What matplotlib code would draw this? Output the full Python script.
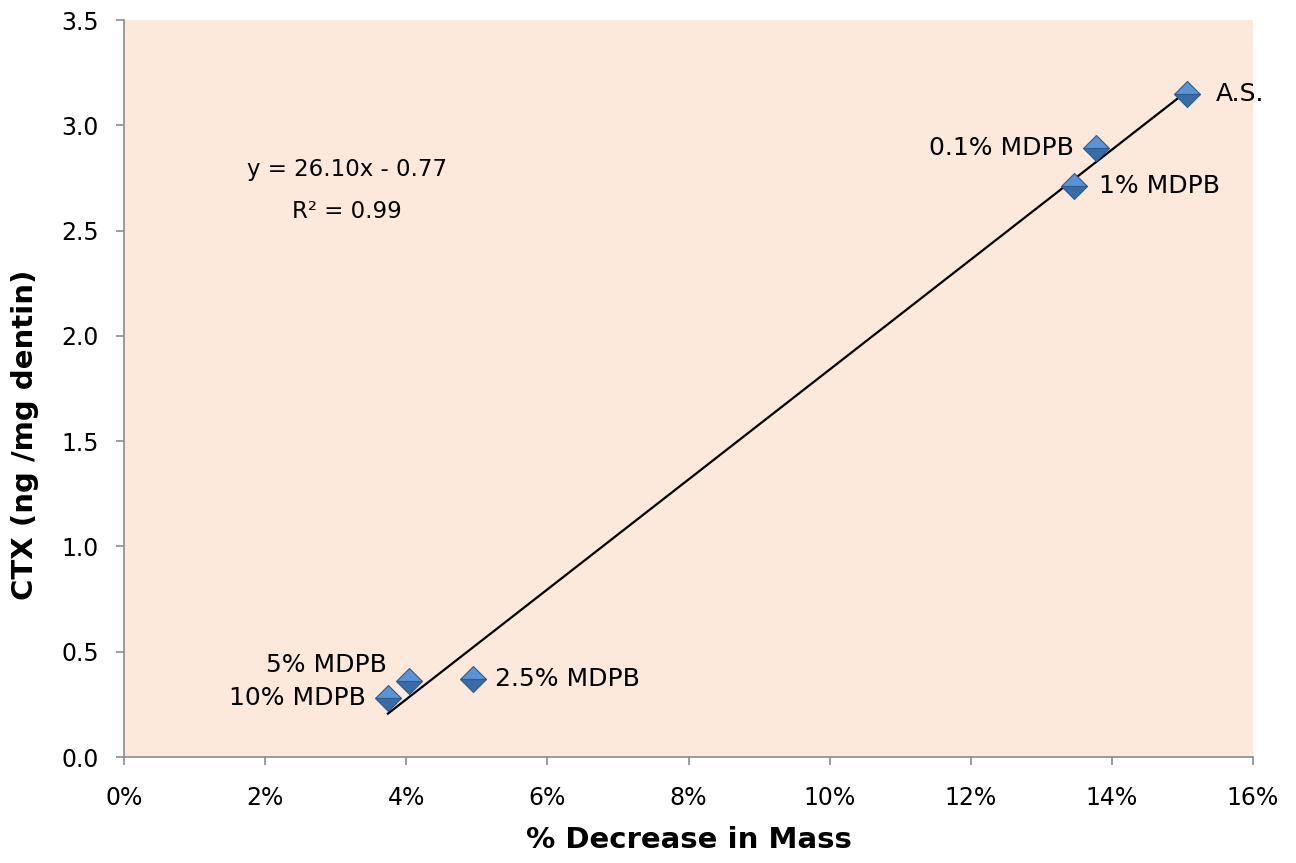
import numpy as np
import matplotlib
matplotlib.use("Agg")
import matplotlib.pyplot as plt
from matplotlib.ticker import PercentFormatter, FormatStrFormatter

# Data
labels = ["A.S.", "0.1% MDPB", "1% MDPB", "2.5% MDPB", "5% MDPB", "10% MDPB"]
mass_decrease = [0.1506, 0.1378, 0.1347, 0.0494, 0.0404, 0.0374]
ctx = [3.15, 2.89, 2.71, 0.37, 0.36, 0.28]
slope, intercept = 26.10, -0.77
x_ticks = [0, 0.02, 0.04, 0.06, 0.08, 0.10, 0.12, 0.14, 0.16]
y_ticks = [0.0, 0.5, 1.0, 1.5, 2.0, 2.5, 3.0, 3.5]

plt.rcParams['font.family'] = ['DejaVu Sans']

fig = plt.figure(figsize=(12.96, 8.63), dpi=100)
ax = fig.add_axes([0.0957, 0.1228, 0.8711, 0.854])
ax.set_facecolor('#FCE9DB')

# trendline over the range of the data
xs = np.array([min(mass_decrease), max(mass_decrease)])
ax.plot(xs, slope * xs + intercept, color='black', lw=1.6, zorder=2)

# bevelled diamonds: light upper half, darker lower half
ax.plot(mass_decrease, ctx, linestyle='none', marker='D', markersize=13,
        fillstyle='top', markerfacecolor='#5B94D6',
        markerfacecoloralt='#3B6BA5', markeredgecolor='#2F5C8F',
        markeredgewidth=0.8, zorder=3)

# point labels (left or right of the marker), offsets in points
offsets = {
    "A.S.": (21, 0, 'left'),
    "0.1% MDPB": (-16, 0, 'right'),
    "1% MDPB": (18, 0, 'left'),
    "2.5% MDPB": (16, 0, 'left'),
    "5% MDPB": (-16, 12, 'right'),
    "10% MDPB": (-16, 0, 'right'),
}
for lab, x, y in zip(labels, mass_decrease, ctx):
    dx, dy, ha = offsets[lab]
    ax.annotate(lab, (x, y), xytext=(dx, dy), textcoords='offset points',
                ha=ha, va='center', fontsize=18)

ax.text(0.0316, 2.79, "y = 26.10x - 0.77", ha='center', va='center', fontsize=16.5)
ax.text(0.0316, 2.59, "R² = 0.99", ha='center', va='center', fontsize=16.5)

ax.set_xlim(0, 0.16)
ax.set_ylim(0, 3.5)
ax.set_xticks(x_ticks)
ax.set_yticks(y_ticks)
ax.xaxis.set_major_formatter(PercentFormatter(1.0, decimals=0))
ax.yaxis.set_major_formatter(FormatStrFormatter('%.1f'))

for side in ['top', 'right']:
    ax.spines[side].set_visible(False)
for side in ['left', 'bottom']:
    ax.spines[side].set_color('#8C8C8C')
    ax.spines[side].set_linewidth(1.2)
ax.tick_params(axis='both', direction='out', length=6, color='#8C8C8C',
               width=1.2, labelsize=17)
ax.tick_params(axis='y', pad=12)
ax.tick_params(axis='x', pad=15)

ax.set_xlabel("% Decrease in Mass", fontsize=21, fontweight='bold', va='center')
ax.xaxis.set_label_coords(0.5, -0.1126)
ax.set_ylabel("CTX (ng /mg dentin)", fontsize=21, fontweight='bold', va='center')
ax.yaxis.set_label_coords(-0.0877, 0.437)

fig.savefig("out.png", dpi=100)
